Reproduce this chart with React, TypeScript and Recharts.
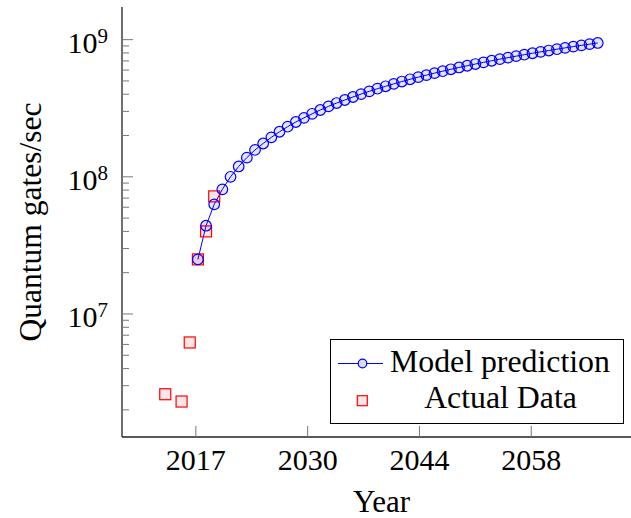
import React from 'react';
import { ComposedChart, Line, Scatter, XAxis, YAxis, Legend } from 'recharts';

// model prediction, one point per year (values in gates/sec)
const modelYears = [
  2017, 2018, 2019, 2020, 2021, 2022, 2023, 2024, 2025, 2026,
  2027, 2028, 2029, 2030, 2031, 2032, 2033, 2034, 2035, 2036,
  2037, 2038, 2039, 2040, 2041, 2042, 2043, 2044, 2045, 2046,
  2047, 2048, 2049, 2050, 2051, 2052, 2053, 2054, 2055, 2056,
  2057, 2058, 2059, 2060, 2061, 2062, 2063, 2064, 2065, 2066,
];
const modelMillions = [
  25, 44, 63, 81, 100, 119, 138, 157, 175, 194,
  213, 232, 251, 269, 288, 307, 326, 345, 363, 382,
  401, 420, 439, 457, 476, 495, 514, 533, 551, 570,
  589, 608, 627, 645, 664, 683, 702, 721, 739, 758,
  777, 796, 815, 833, 852, 871, 890, 909, 927, 946,
];

const actualYears = [2013, 2015, 2016, 2017, 2018, 2019];
const actualValues = [2.6e6, 2.3e6, 6.2e6, 2.5e7, 4.0e7, 7.2e7];

const xTickValues = [2016.75, 2030.45, 2044.15, 2057.85];
const xTickLabels = ['2017', '2030', '2044', '2058'];
const yMajorTicks = [1e7, 1e8, 1e9];
const yMinorTicks = [
  2e6, 3e6, 4e6, 5e6, 6e6, 7e6, 8e6, 9e6,
  2e7, 3e7, 4e7, 5e7, 6e7, 7e7, 8e7, 9e7,
  2e8, 3e8, 4e8, 5e8, 6e8, 7e8, 8e8, 9e8,
];

const modelData = modelYears.map((year, i) => ({ year, model: modelMillions[i] * 1e6 }));
const actualData = actualYears.map((year, i) => ({ year, actual: actualValues[i] }));
const yTicks = [...yMinorTicks, ...yMajorTicks].sort((a, b) => a - b);

const FONT = '"Liberation Serif", "DejaVu Serif", serif';
const TICK = '#777';
const AXIS = '#222';
const X_DOMAIN = [2007.7, 2071.3];
const Y_DOMAIN = [1.268e6, 1.73e9];

const LeftTick = (props: any) => {
  const { x, y, payload } = props;
  const major = yMajorTicks.includes(payload.value);
  const exp = Math.round(Math.log10(payload.value));
  return (
    <g>
      <line x1={x} x2={x + (major ? 11 : 7)} y1={y} y2={y} stroke={TICK} strokeWidth={1} />
      {major && (
        <text x={x - 14} y={y + 13} textAnchor="end" fontFamily={FONT} fontSize={30} fill="#000">
          10<tspan dy={-10} fontSize={21}>{exp}</tspan>
        </text>
      )}
    </g>
  );
};

// right frame sits just past the picture edge, only the major tick stubs show
const RightTick = (props: any) => {
  const { x, y, payload } = props;
  const major = yMajorTicks.includes(payload.value);
  return <line x1={x} x2={x - (major ? 11 : 7)} y1={y} y2={y} stroke={TICK} strokeWidth={1} />;
};

const BottomTick = (props: any) => {
  const { x, y, index } = props;
  return (
    <g>
      <line x1={x} x2={x} y1={y} y2={y - 11} stroke={TICK} strokeWidth={1} />
      <text x={x} y={y + 33} textAnchor="middle" fontFamily={FONT} fontSize={30} fill="#000">
        {xTickLabels[index]}
      </text>
    </g>
  );
};

const TopTick = (props: any) => {
  const { x, y } = props;
  return <line x1={x} x2={x} y1={y} y2={y + 11} stroke={TICK} strokeWidth={1} />;
};

const Square = (props: any) => {
  const { cx, cy } = props;
  if (cx == null || cy == null) return null;
  return (
    <rect x={cx - 5.5} y={cy - 5.5} width={11} height={11}
      fill="red" fillOpacity={0.1} stroke="red" strokeWidth={1.2} />
  );
};

const LegendBox = () => (
  <div style={{ width: 294, height: 85, boxSizing: 'border-box', border: '1px solid #000', background: '#fff' }}>
    <svg width={292} height={83} style={{ display: 'block' }}>
      <line x1={7} x2={52} y1={23.5} y2={23.5} stroke="blue" strokeWidth={1} />
      <circle cx={31.5} cy={23.5} r={4.3} fill="#dcdcf0" stroke="blue" strokeWidth={1.2} />
      <text x={59} y={31.7} fontFamily={FONT} fontSize={31.8} fill="#000">Model prediction</text>
      <rect x={26.3} y={55.7} width={10} height={10} fill="red" fillOpacity={0.1} stroke="red" strokeWidth={1.2} />
      <text x={169.5} y={68} textAnchor="middle" fontFamily={FONT} fontSize={31.8} fill="#000">Actual Data</text>
    </svg>
  </div>
);

export default function App() {
  return (
    <div style={{ position: 'absolute', left: 0, top: 0, width: 631, height: 518, overflow: 'hidden', background: '#fff' }}>
      <ComposedChart width={661} height={518} margin={{ top: 7, right: 20, bottom: 0, left: 0 }}>
        <XAxis
          type="number"
          dataKey="year"
          domain={X_DOMAIN}
          allowDataOverflow
          ticks={xTickValues}
          interval={0}
          tickSize={0}
          tickMargin={0}
          tick={<BottomTick />}
          height={81}
          axisLine={{ stroke: AXIS, strokeWidth: 1.3 }}
          label={() => (
            <text x={381.5} y={512} textAnchor="middle" fontFamily={FONT} fontSize={31} fill="#000">Year</text>
          )}
        />
        <XAxis
          xAxisId="top"
          orientation="top"
          type="number"
          dataKey="year"
          domain={X_DOMAIN}
          allowDataOverflow
          ticks={xTickValues}
          interval={0}
          tickSize={0}
          tickMargin={0}
          tick={<TopTick />}
          height={0}
          axisLine={{ stroke: AXIS, strokeWidth: 1.3 }}
        />
        <YAxis
          scale="log"
          type="number"
          domain={Y_DOMAIN}
          allowDataOverflow
          ticks={yTicks}
          interval={0}
          tickSize={0}
          tickMargin={0}
          tick={<LeftTick />}
          width={122}
          axisLine={{ stroke: AXIS, strokeWidth: 1.3 }}
          label={() => (
            <text x={41} y={222} transform="rotate(-90 41 222)" textAnchor="middle" fontFamily={FONT} fontSize={31.5} fill="#000">
              Quantum gates/sec
            </text>
          )}
        />
        <YAxis
          yAxisId="right"
          orientation="right"
          scale="log"
          type="number"
          domain={Y_DOMAIN}
          allowDataOverflow
          ticks={yTicks}
          interval={0}
          tickSize={0}
          tickMargin={0}
          tick={<RightTick />}
          width={0}
          axisLine={{ stroke: AXIS, strokeWidth: 1.3 }}
        />
        <Line
          data={modelData}
          dataKey="model"
          type="linear"
          stroke="blue"
          strokeWidth={1}
          dot={{ r: 5.3, stroke: 'blue', strokeWidth: 1.2, fill: 'blue', fillOpacity: 0.1 }}
          activeDot={false}
          isAnimationActive={false}
        />
        <Scatter data={actualData} dataKey="actual" shape={<Square />} isAnimationActive={false} />
        <Legend
          layout="horizontal"
          align="center"
          verticalAlign="middle"
          wrapperStyle={{ left: 330, top: 339, width: 294, height: 85 }}
          content={() => <LegendBox />}
        />
      </ComposedChart>
    </div>
  );
}
